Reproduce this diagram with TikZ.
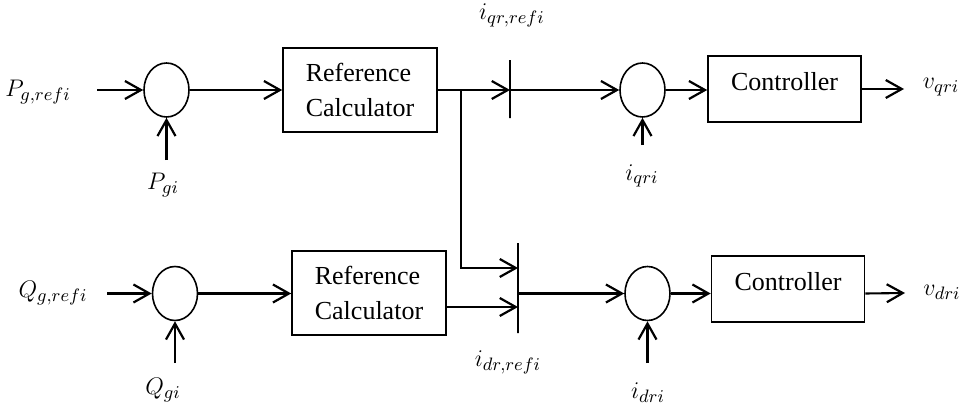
\documentclass[tikz,border=0pt]{standalone}
\usepackage{fontspec}
\setmainfont{Liberation Serif}
\usetikzlibrary{arrows.meta,shapes.geometric}
\begin{document}
\begin{tikzpicture}[x=0.5pt,y=-0.5pt,
  every node/.style={font=\fontsize{13}{17.5}\selectfont},
  sig/.style={line width=1.05pt,-{Straight Barb[length=8pt,width=9pt,line width=1.1pt]}},
  sumnode/.style={ellipse,draw,line width=0.8pt,minimum width=22.5pt,minimum height=27pt,inner sep=0pt},
  block/.style={draw,line width=0.8pt,inner sep=0pt},
  refblock/.style={block,minimum width=77pt,minimum height=42pt,align=left},
  ctrlblock/.style={block,minimum width=76.5pt,minimum height=33pt,text height=9pt,text depth=7.4pt},
  bar/.style={draw,line width=1pt,minimum width=0pt,inner sep=0pt},
  lbl/.style={inner sep=1pt,font=\fontsize{13}{15}\selectfont}]
\useasboundingbox (0,0) rectangle (971,407);

% upper (q-axis) chain
\node[sumnode] (s1) at (166.5,90) {};
\node[refblock] (rc1) at (360,90) {Reference\\Calculator};
\node[bar,minimum height=29pt] (bar1) at (510,89) {};
\node[sumnode] (s2) at (642.5,90) {};
\node[ctrlblock] (c1) at (784.5,89) {Controller};

% lower (d-axis) chain
\node[sumnode] (s3) at (175,293.5) {};
\node[refblock] (rc2) at (369,293) {Reference\\Calculator};
\node[bar,minimum height=45pt] (bar2) at (518,288) {};
\node[sumnode] (s4) at (647.5,293.5) {};
\node[ctrlblock] (c2) at (788,289) {Controller};

% labels
\node[lbl] (lp) at (38,92) {$P_{g,refi}$};
\node[lbl] (lpg) at (163,185) {$P_{gi}$};
\node[lbl] (liqr) at (512,15) {$i_{qr,refi}$};
\node[lbl] (liq) at (642,176) {$i_{qri}$};
\node[lbl] (lvq) at (941,87) {$v_{qri}$};
\node[lbl] (lq) at (53,293) {$Q_{g,refi}$};
\node[lbl] (lqg) at (163,390) {$Q_{gi}$};
\node[lbl] (lidr) at (508,362) {$i_{dr,refi}$};
\node[lbl] (lid) at (648,393) {$i_{dri}$};
\node[lbl] (lvd) at (942,292) {$v_{dri}$};

% free ends of the signals
\coordinate (pin) at (97,90);
\coordinate (pgin) at (166.5,160);
\coordinate (iqin) at (642.5,145);
\coordinate (vqout) at (904,89);
\coordinate (qin) at (107,293.5);
\coordinate (qgin) at (175,363);
\coordinate (idin) at (647.5,363);
\coordinate (vdout) at (905,293);
\coordinate (br) at (461,90);
\coordinate (in2a) at (518,268);
\coordinate (in2b) at (518,307);

% upper connections
\draw[sig] (pin) -- (s1.west);
\draw[sig] (pgin) -- (s1.south);
\draw[sig] (s1.east) -- (rc1.west);
\draw[sig] (rc1.east) -- (bar1.center |- rc1.east);
\draw[sig] (bar1.center |- s2.west) -- (s2.west);
\draw[sig] (iqin) -- (s2.south);
\draw[sig] (s2.east) -- (c1.west |- s2.east);
\draw[sig] (c1.east) -- (vqout);

% lower connections
\draw[sig] (qin) -- (s3.west);
\draw[sig] (qgin) -- (s3.south);
\draw[sig] (s3.east) -- (rc2.west |- s3.east);
\draw[sig] (br) |- (in2a);
\draw[sig] (rc2.east |- in2b) -- (in2b);
\draw[sig] (bar2.center |- s4.west) -- (s4.west);
\draw[sig] (idin) -- (s4.south);
\draw[sig] (s4.east) -- (c2.west |- s4.east);
\draw[sig] (c2.east |- s4.east) -- (vdout);
\end{tikzpicture}
\end{document}
